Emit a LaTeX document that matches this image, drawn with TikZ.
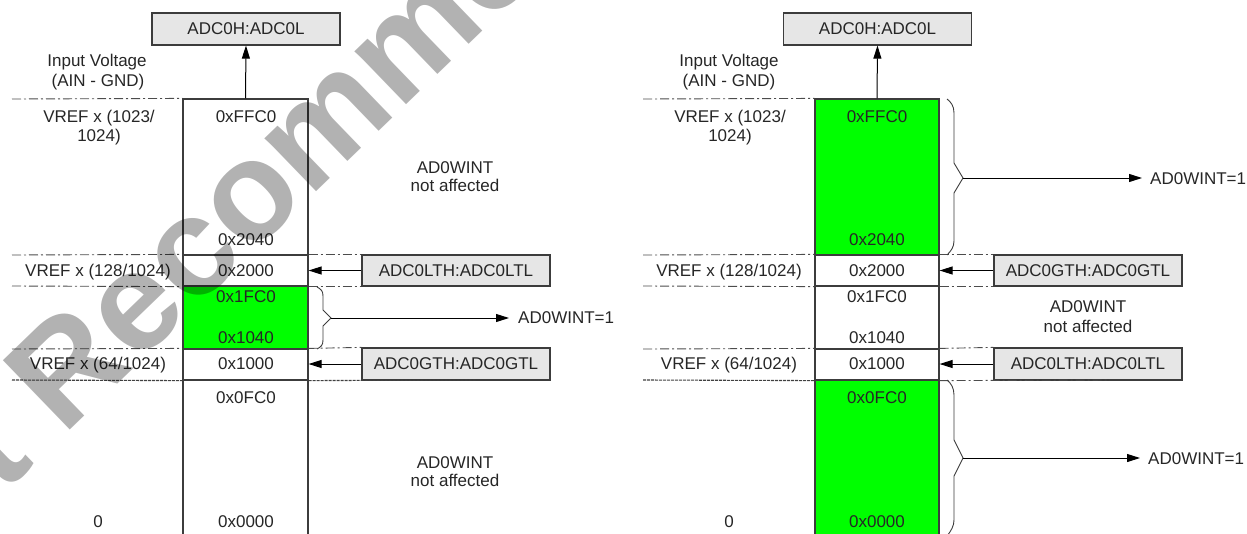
\documentclass[tikz,border=0pt]{standalone}
\usepackage{fontspec}
\setmainfont{Liberation Sans}
\usetikzlibrary{arrows.meta}
\definecolor{boxgray}{RGB}{230,230,230}
\definecolor{brightgreen}{RGB}{0,255,0}
\definecolor{linegray}{RGB}{60,60,60}
\begin{document}
\begin{tikzpicture}[x=1pt,y=-1pt,
  every node/.style={font=\fontsize{17}{20}\selectfont, inner sep=0pt, text=black!85},
  cellL/.style={draw=linegray, line width=1.2pt, minimum width=125pt},
  cellR/.style={draw=linegray, line width=1.2pt, minimum width=124pt},
  regbox/.style={draw=linegray, fill=boxgray, line width=1.2pt, minimum width=188pt, minimum height=32pt},
  sepdd/.style={draw=black!70, line width=0.9pt, dash pattern=on 9pt off 3pt on 2pt off 3pt},
  sepdot/.style={draw=black!75, line width=1.1pt, dash pattern=on 3pt off 1pt},
  arr/.style={draw=black, line width=1pt, -{Triangle[length=13pt,width=8pt]}},
  brace/.style={draw=linegray, line width=0.9pt},
  lbl/.style={anchor=base},
  wm/.style={font=\fontsize{140}{140}\bfseries\selectfont, text=black, text opacity=0.3}
]
\useasboundingbox (0,0) rectangle (1247,533);

% ================= LEFT DIAGRAM =================
\node[cellL, minimum height=156pt] (La) at (245.5,177) {};
\node[cellL, minimum height=31pt] (Lb) at (245.5,270.5) {};
\node[cellL, fill=brightgreen, minimum height=63pt] (Lc) at (245.5,317.5) {};
\node[cellL, minimum height=31pt] (Ld) at (245.5,364.5) {};
\node[cellL, minimum height=170pt] (Le) at (245.5,465) {};

\node[regbox] (LADC) at (246,29) {ADC0H:ADC0L};
\node[regbox, minimum height=31pt] (LLTH) at (456,270.5) {ADC0LTH:ADC0LTL};
\node[regbox] (LGTH) at (456,364) {ADC0GTH:ADC0GTL};

\draw[sepdd] (12,99) -- (La.north west);
\draw[sepdd] (12,255) -- (Lb.north west);
\draw[sepdd] (12,286) -- (Lb.south west);
\draw[sepdd] (12,349) -- (Ld.north west);
\draw[sepdot] (12,380) -- (Ld.south west);
\draw[sepdd] (Lb.north east) -- (LLTH.north west);
\draw[sepdd] (Lb.south east) -- (LLTH.south west);
\draw[sepdd] (Ld.north east) -- (LGTH.north west);
\draw[sepdot] (Ld.south east) -- (477,380);

\node[lbl] (Liv1) at (97,66) {Input Voltage};
\node[lbl] (Liv2) at (98,86) {(AIN - GND)};
\node[lbl] (Lv1a) at (99,122) {VREF x (1023/};
\node[lbl] (Lv1b) at (99,141) {1024)};
\node[lbl] (Lv2) at (98,276) {VREF x (128/1024)};
\node[lbl] (Lv3) at (98,369) {VREF x (64/1024)};
\node[lbl] (Lv0) at (98,527) {0};

\node[lbl] (Lh1) at (246,122) {0xFFC0};
\node[lbl] (Lh2) at (246,245) {0x2040};
\node[lbl] (Lh3) at (246,276) {0x2000};
\node[lbl] (Lh4) at (246,302) {0x1FC0};
\node[lbl] (Lh5) at (246,343) {0x1040};
\node[lbl] (Lh6) at (246,369) {0x1000};
\node[lbl] (Lh7) at (246,403) {0x0FC0};
\node[lbl] (Lh8) at (246,527) {0x0000};

\node[lbl] (Lna1) at (455,173) {AD0WINT};
\node[lbl] (Lna2) at (455,191) {not affected};
\node[lbl] (Lnb1) at (455,468) {AD0WINT};
\node[lbl] (Lnb2) at (455,486) {not affected};

\draw[arr] (La.north) -- (LADC.south);
\draw[arr] (LLTH.west) -- (Lb.east);
\draw[arr] (LGTH.west) -- (Lb.east |- LGTH.west);

\coordinate (Ltip) at (331,318);
\draw[brace] (317,287) .. controls (321,289) and (323,291) .. (323,296) -- (323,310) -- (Ltip) -- (323,326) -- (323,340) .. controls (323,345) and (321,347) .. (317,349);
\node[anchor=base west] (Lw) at (518,323) {AD0WINT=1};
\draw[arr, shorten >=9pt] (Ltip) -- (Ltip -| Lw.west);

% ================= RIGHT DIAGRAM =================
\node[cellR, fill=brightgreen, minimum height=156pt] (Ra) at (877,177) {};
\node[cellR, minimum height=31pt] (Rb) at (877,270.5) {};
\node[cellR, minimum height=63pt] (Rc) at (877,317.5) {};
\node[cellR, minimum height=31pt] (Rd) at (877,364.5) {};
\node[cellR, fill=brightgreen, minimum height=170pt] (Re) at (877,465) {};

\node[regbox] (RADC) at (877.5,29) {ADC0H:ADC0L};
\node[regbox, minimum height=31pt] (RGTH) at (1088,270.5) {ADC0GTH:ADC0GTL};
\node[regbox] (RLTH) at (1088,364) {ADC0LTH:ADC0LTL};

\draw[sepdd] (643,99) -- (Ra.north west);
\draw[sepdd] (643,255) -- (Rb.north west);
\draw[sepdd] (643,286) -- (Rb.south west);
\draw[sepdd] (643,349) -- (Rd.north west);
\draw[sepdot] (643,380) -- (Rd.south west);
\draw[sepdd] (Rb.north east) -- (RGTH.north west);
\draw[sepdd] (Rb.south east) -- (RGTH.south west);
\draw[sepdd] (Rd.north east) -- (RLTH.north west);
\draw[sepdd] (Rd.south east) -- (1110,380);

\node[lbl] (Riv1) at (729,66) {Input Voltage};
\node[lbl] (Riv2) at (729,86) {(AIN - GND)};
\node[lbl] (Rv1a) at (730,122) {VREF x (1023/};
\node[lbl] (Rv1b) at (730,141) {1024)};
\node[lbl] (Rv2) at (729,276) {VREF x (128/1024)};
\node[lbl] (Rv3) at (729,369) {VREF x (64/1024)};
\node[lbl] (Rv0) at (729,527) {0};

\node[lbl] (Rh1) at (877,122) {0xFFC0};
\node[lbl] (Rh2) at (877,245) {0x2040};
\node[lbl] (Rh3) at (877,276) {0x2000};
\node[lbl] (Rh4) at (877,302) {0x1FC0};
\node[lbl] (Rh5) at (877,343) {0x1040};
\node[lbl] (Rh6) at (877,369) {0x1000};
\node[lbl] (Rh7) at (877,403) {0x0FC0};
\node[lbl] (Rh8) at (877,527) {0x0000};

\node[lbl] (Rn1) at (1088,312) {AD0WINT};
\node[lbl] (Rn2) at (1088,332) {not affected};

\draw[arr] (Ra.north) -- (RADC.south);
\draw[arr] (RGTH.west) -- (Rb.east);
\draw[arr] (RLTH.west) -- (Rb.east |- RLTH.west);

\coordinate (Rtip1) at (963,178);
\draw[brace] (947,99) .. controls (951,102) and (954,106) .. (954,113) -- (954,163) -- (Rtip1) -- (954,193) -- (954,241) .. controls (954,247) and (951,251) .. (947,255);
\node[anchor=base west] (Rw1) at (1150,184) {AD0WINT=1};
\draw[arr, shorten >=8pt] (Rtip1) -- (Rtip1 -| Rw1.west);

\coordinate (Rtip2) at (963,458);
\draw[brace] (947,380) .. controls (951,383) and (954,388) .. (954,395) -- (954,440) -- (Rtip2) -- (954,476) -- (954,520) .. controls (954,526) and (951,531) .. (947,536);
\node[anchor=base west] (Rw2) at (1148,464) {AD0WINT=1};
\draw[arr, shorten >=8pt] (Rtip2) -- (Rtip2 -| Rw2.west);

% ================= WATERMARK =================
\node[wm, rotate=44] (WM) at (292,146) {Not Recommended};
\end{tikzpicture}
\end{document}
